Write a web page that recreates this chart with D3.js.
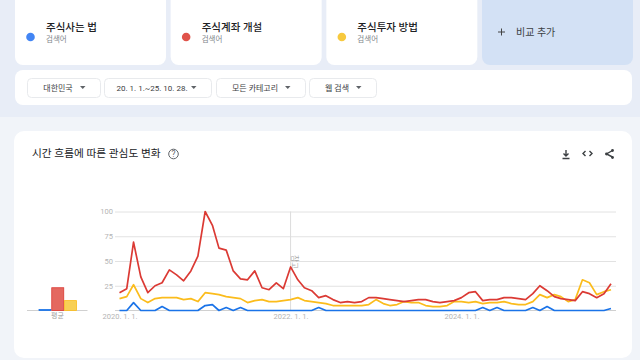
<!DOCTYPE html>
<html lang="ko">
<head>
<meta charset="utf-8">
<script src="https://cdn.jsdelivr.net/npm/d3@7"></script>
<style>
  html, body { margin: 0; padding: 0; background: #f1f4f9; overflow: hidden; }
  svg { display: block; font-family: Roboto, "Noto Sans CJK KR", sans-serif; }
  .grid .domain, .xaxis .domain { display: none; }
  .grid line { stroke: #e2e2e2; }
  .grid text, .xaxis text { fill: #b4b4b4; font-size: 7.5px; font-family: Roboto, sans-serif; }
  .xaxis line { display: none; }
</style>
</head>
<body>
<svg id="chart" width="640" height="360"></svg>
<script>
// Search terms and chips
const terms = ['주식사는 법', '주식계좌 개설', '주식투자 방법'];
const termColors = ['#4285f4', '#e0534a', '#f7c93e'];
const lineColors = ['#1a73e8', '#db3a34', '#fbbc1c'];
const chips = ['대한민국', '20. 1. 1.~25. 10. 28.', '모든 카테고리', '웹 검색'];

// Monthly interest, 2020-01 to 2025-10
const months = d3.utcMonth.range(new Date(Date.UTC(2020, 0, 1)), new Date(Date.UTC(2025, 10, 1)));
const blueValues = [
  0, 0, 8, 0, 0, 0, 4, 0, 0, 0, 0, 0,
  5, 6, 0, 3, 0, 3, 0, 0, 0, 0, 0, 0,
  0, 0, 0, 0, 3, 0, 0, 0, 0, 0, 0, 0,
  0, 0, 0, 0, 0, 0, 0, 0, 0, 0, 0, 0,
  0, 0, 0, 3, 0, 3, 0, 0, 0, 0, 3, 0,
  4, 0, 0, 0, 0, 0, 0, 0, 0, 2
];
const redValues = [
  18, 22, 69, 34, 18, 25, 28, 41, 36, 30, 40, 55,
  100, 86, 63, 61, 40, 32, 31, 40, 23, 21, 28, 22,
  44, 31, 23, 20, 13, 15, 11, 8, 9, 8, 9, 13,
  13, 12, 11, 10, 9, 10, 11, 11, 9, 8, 9, 10,
  13, 18, 19, 10, 11, 11, 13, 13, 12, 11, 17, 25,
  20, 14, 12, 11, 10, 19, 17, 13, 17, 27
];
const yellowValues = [
  12, 14, 26, 12, 8, 12, 13, 13, 13, 11, 12, 9,
  18, 17, 16, 14, 13, 12, 8, 10, 11, 9, 9, 10,
  11, 13, 10, 9, 8, 7, 5, 5, 5, 5, 5, 6,
  11, 7, 5, 6, 9, 8, 8, 5, 4, 4, 5, 9,
  9, 8, 9, 7, 8, 8, 9, 7, 6, 6, 9, 16,
  13, 16, 14, 9, 11, 31, 28, 16, 19, 21
];
const seriesValues = [blueValues, redValues, yellowValues];
const averages = [1, 23, 10];
const yTicks = [25, 50, 75, 100];
const xTickDates = [new Date(Date.UTC(2020, 0, 1)), new Date(Date.UTC(2022, 0, 1)), new Date(Date.UTC(2024, 0, 1))];

const svg = d3.select('#chart');

// Page bands
svg.append('rect').attr('width', 640).attr('height', 117).attr('fill', '#e8edf7');

// Term cards
const cardX = d3.scaleBand().domain(d3.range(4)).range([15, 633]).paddingInner(0.03);
const cards = svg.selectAll('.card').data(terms).enter().append('g')
  .attr('class', 'card')
  .attr('transform', (d, i) => `translate(${cardX(i)},-10)`);
cards.append('rect')
  .attr('width', cardX.bandwidth()).attr('height', 75).attr('rx', 8)
  .attr('fill', '#fff');
cards.append('circle')
  .attr('cx', 15.5).attr('cy', 47).attr('r', 4.3)
  .attr('fill', (d, i) => termColors[i]);
cards.append('text')
  .attr('x', 31).attr('y', 40.5)
  .attr('font-size', 10.5).attr('font-weight', 500).attr('fill', '#202124')
  .text(d => d);
cards.append('text')
  .attr('x', 31).attr('y', 51.5)
  .attr('font-size', 7.5).attr('fill', '#80868b')
  .text('검색어');

// Compare card
const addCard = svg.append('g').attr('transform', `translate(${cardX(3)},-10)`);
addCard.append('rect')
  .attr('width', cardX.bandwidth()).attr('height', 75).attr('rx', 8)
  .attr('fill', '#d3e1f5');
addCard.append('path')
  .attr('d', 'M16 42h7M19.5 38.500v7')
  .attr('stroke', '#444').attr('fill', 'none');
addCard.append('text')
  .attr('x', 34).attr('y', 46)
  .attr('font-size', 10).attr('fill', '#3c4043')
  .text('비교 추가');

// Filter bar
svg.append('rect')
  .attr('x', 15).attr('y', 70).attr('width', 617).attr('height', 35).attr('rx', 8)
  .attr('fill', '#fff');
const chipBoxes = [[27, 73], [104, 107], [216, 89], [309, 67]];
const chip = svg.selectAll('.chip').data(chips).enter().append('g')
  .attr('class', 'chip')
  .attr('transform', (d, i) => `translate(${chipBoxes[i][0]},78)`);
chip.append('rect')
  .attr('x', 0.5).attr('y', 0.5)
  .attr('width', (d, i) => chipBoxes[i][1]).attr('height', 19).attr('rx', 4)
  .attr('fill', '#fff').attr('stroke', '#e8eaed');
chip.append('text')
  .attr('x', (d, i) => (chipBoxes[i][1] - 14) / 2 + 1.5)
  .attr('y', 13)
  .attr('text-anchor', 'middle')
  .attr('font-size', 8).attr('fill', '#3c4043')
  .text(d => d);
chip.append('path')
  .attr('transform', (d, i) => `translate(${chipBoxes[i][1] - 20},8)`)
  .attr('d', 'M0 0h5.500l-2.750 3z')
  .attr('fill', '#5f6368');

// Chart card
svg.append('rect')
  .attr('x', 14).attr('y', 131).attr('width', 618).attr('height', 227).attr('rx', 10)
  .attr('fill', '#fff');
svg.append('text')
  .attr('x', 32).attr('y', 157)
  .attr('font-size', 10.7).attr('fill', '#202124')
  .text('시간 흐름에 따른 관심도 변화');
svg.append('circle')
  .attr('cx', 173.500).attr('cy', 154).attr('r', 4.8)
  .attr('fill', 'none').attr('stroke', '#5f6368');
svg.append('text')
  .attr('x', 173.500).attr('y', 157).attr('text-anchor', 'middle')
  .attr('font-size', 8.5).attr('fill', '#5f6368').text('?');

// Toolbar icons
const tools = svg.append('g').attr('fill', 'none').attr('stroke', '#3c4043').attr('stroke-width', 1.4);
tools.append('path').attr('d', 'M566 150v6M563.500 153.500l2.500 2.500 2.500-2.500M562.500 158.500h7');
tools.append('path').attr('d', 'M585.500 151l-2.500 2.500 2.500 2.500M589.500 151l2.500 2.500-2.500 2.500');
tools.append('path').attr('d', 'M612.500 150.500l-6 3.500 6 3');
tools.selectAll('circle').data([[612.500, 150.500], [606.500, 154], [612.500, 157.500]]).enter().append('circle')
  .attr('cx', d => d[0]).attr('cy', d => d[1]).attr('r', 1.4)
  .attr('fill', '#3c4043').attr('stroke', 'none');

// Scales
const x = d3.scaleUtc().domain([months[0], months[months.length - 1]]).range([119.5, 611]);
const y = d3.scaleLinear().domain([0, 100]).range([310.5, 211.5]);

// Grid and axes
svg.append('g')
  .attr('class', 'grid')
  .attr('transform', 'translate(115,0)')
  .call(d3.axisLeft(y).tickValues(yTicks).tickSize(-501).tickPadding(2));

svg.append('line')
  .attr('x1', 115).attr('x2', 616).attr('y1', y(0)).attr('y2', y(0))
  .attr('stroke', '#d0d0d0');

svg.append('g')
  .attr('class', 'xaxis')
  .attr('transform', `translate(0,${y(0)})`)
  .call(d3.axisBottom(x).tickValues(xTickDates).tickSize(0).tickPadding(3)
    .tickFormat(d => `${d.getUTCFullYear()}. 1. 1.`));

// Note marker at 2022
const noteX = x(xTickDates[1]);
svg.append('line')
  .attr('x1', noteX).attr('x2', noteX).attr('y1', y(100)).attr('y2', y(0))
  .attr('stroke', '#dcdcdc');
svg.append('text')
  .attr('transform', `translate(${noteX + 1.5},255) rotate(90)`)
  .attr('font-size', 7.5).attr('fill', '#a9a9a9')
  .text('참고');

// Lines, blue drawn last so it sits on the baseline
const line = d3.line().x((d, i) => x(months[i])).y(d => y(d));
svg.selectAll('.series').data([2, 1, 0]).enter().append('path')
  .attr('class', 'series')
  .attr('d', i => line(seriesValues[i]))
  .attr('fill', 'none')
  .attr('stroke', i => lineColors[i])
  .attr('stroke-width', 1.7)
  .attr('stroke-linejoin', 'round');

// Average bars
const avgX = d3.scaleBand().domain(d3.range(3)).range([39, 76.500]).paddingInner(0.06);
svg.append('line')
  .attr('x1', 27).attr('x2', 87.500).attr('y1', y(0)).attr('y2', y(0))
  .attr('stroke', '#d0d0d0');
svg.selectAll('.avg').data(averages).enter().append('rect')
  .attr('class', 'avg')
  .attr('x', (d, i) => avgX(i))
  .attr('y', d => y(d))
  .attr('width', avgX.bandwidth())
  .attr('height', d => y(0) - y(d))
  .attr('fill', (d, i) => i === 0 ? lineColors[0] : termColors[i])
  .attr('fill-opacity', (d, i) => i === 0 ? 1 : 0.88)
  .attr('stroke', (d, i) => lineColors[i])
  .attr('stroke-width', 0.8);
svg.append('text')
  .attr('x', 57.500).attr('y', 318)
  .attr('text-anchor', 'middle')
  .attr('font-size', 7).attr('fill', '#a0a0a0')
  .text('평균');
</script>
</body>
</html>
